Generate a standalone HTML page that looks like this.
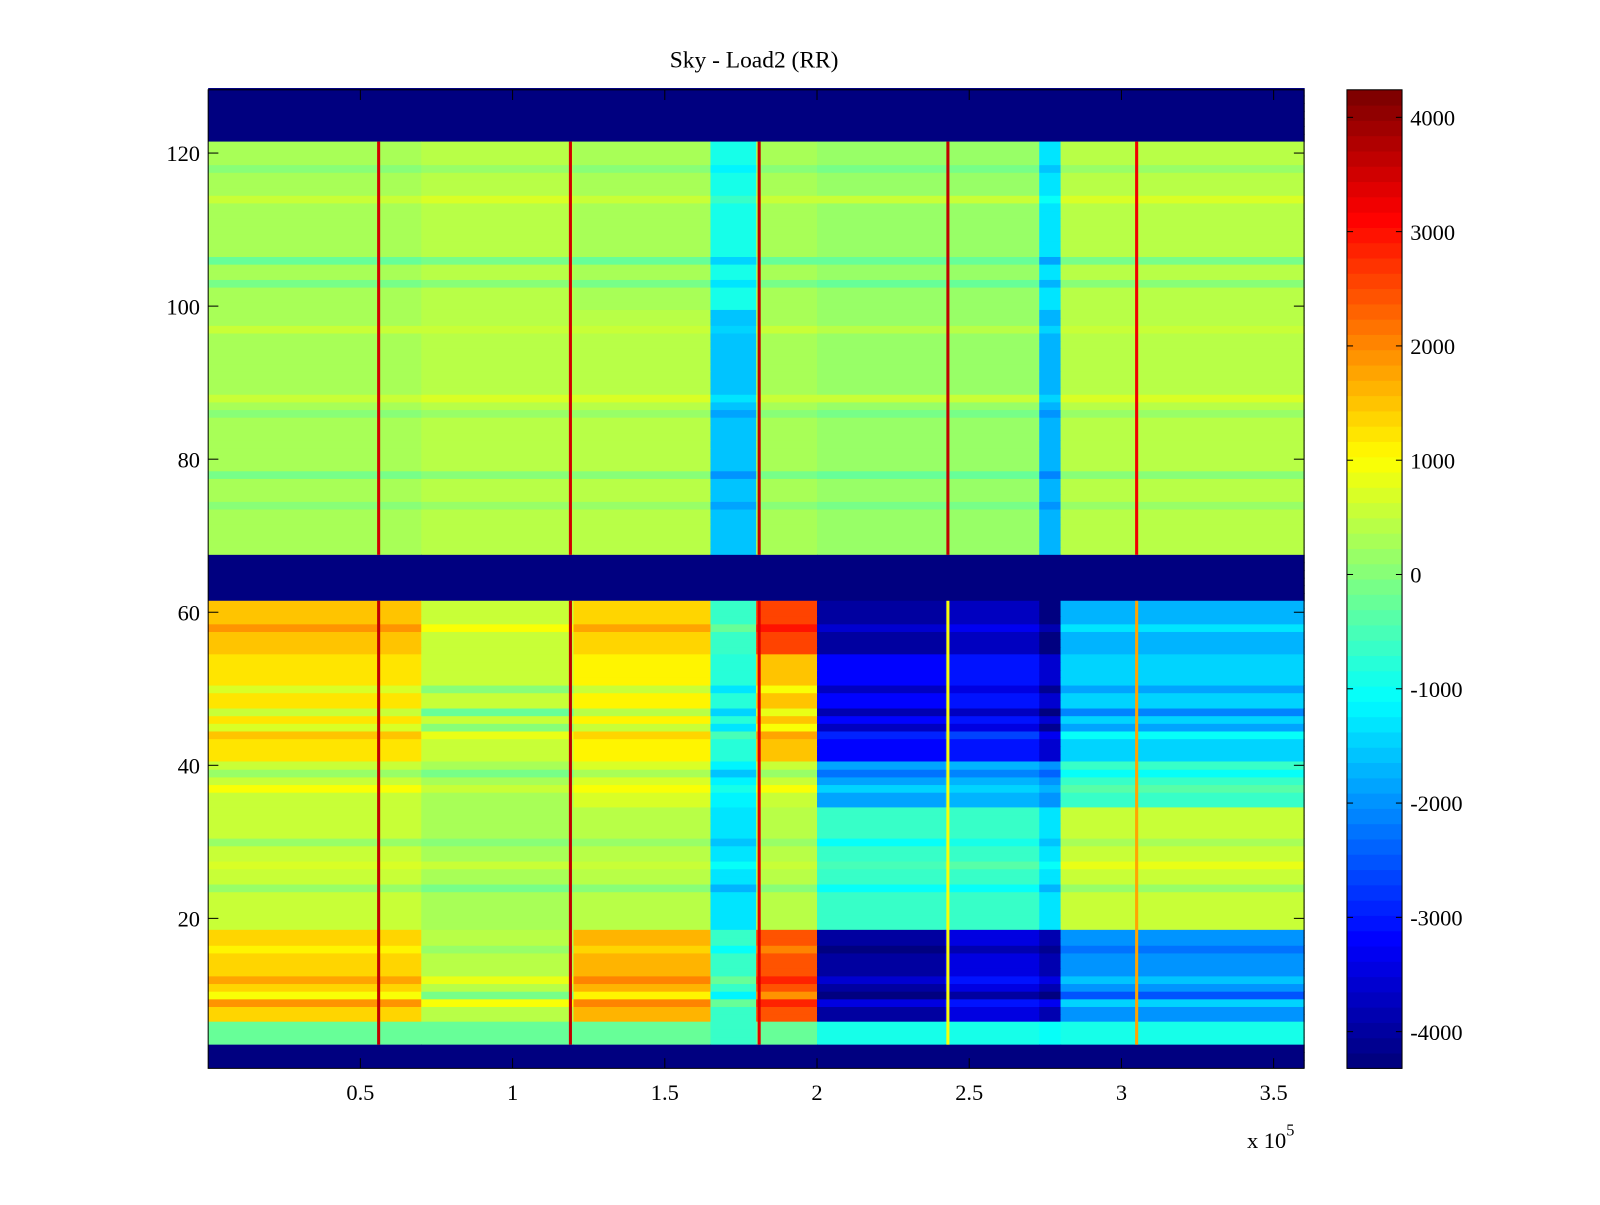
<!DOCTYPE html>
<html><head><meta charset="utf-8"><style>
body{margin:0;background:#fff;}
svg text{font-family:"Liberation Serif",serif;fill:#000;}
</style></head><body>
<svg id="chart" width="1600" height="1200" viewBox="0 0 1568 1176" xmlns="http://www.w3.org/2000/svg">
<rect width="1568" height="1176" fill="#fff"/>
<text x="739" y="66" font-size="23" text-anchor="middle">Sky - Load2 (RR)</text>
<g id="cells"></g>
<g id="lines"></g>
<g id="axes"></g>
<g id="cbar"></g>
<text x="1222" y="1125" font-size="22">x 10<tspan dy="-12" font-size="16">5</tspan></text>
</svg>
<script>
// column segment edges (x in units of 1e5)
const colEdges = [0,0.7,1.2,1.65,1.8,2.0,2.42,2.73,2.8,3.6];
// row bands [lo, hi] inclusive
const bandRows = [[122,128],[100,121],[68,99],[62,67],[55,61],[41,54],[35,40],[19,34],[7,18],[4,6],[1,3]];
const bandValues = [
 [-4300,-4300,-4300,-4300,-4300,-4300,-4300,-4300,-4300],
 [300,400,300,-900,300,200,200,-1300,400],
 [300,400,400,-1600,300,200,200,-1700,400],
 [-4300,-4300,-4300,-4300,-4300,-4300,-4300,-4300,-4300],
 [1500,600,1400,-700,2600,-4000,-3700,-4200,-1700],
 [1200,500,1100,-800,1500,-3200,-3000,-3600,-1400],
 [600,300,700,-1200,600,-1800,-1700,-2000,-700],
 [500,300,400,-1300,400,-700,-600,-1300,600],
 [1400,400,1600,-700,2400,-4000,-3500,-3800,-2000],
 [-300,-300,-300,-600,-300,-900,-900,-1000,-900],
 [-4300,-4300,-4300,-4300,-4300,-4300,-4300,-4300,-4300]
];
// per-row stripe offsets [row, offset]
const stripeRows = [[118,-300],[114,300],[106,-500],[103,-400],[97,200],[88,300],[86,-300],[78,-400],[74,-300],[58,400],[50,-500],[47,-700],[45,-500],[44,300],[39,-400],[37,300],[30,-300],[27,200],[24,-400],[16,-300],[12,400],[10,-500],[9,500]];
// vertical spike lines
const lineX = [0.56,1.19,1.81,2.43,3.05];
const lineTopVal = [3500,3500,3600,3600,3300];
const lineBottomVal = [3700,3600,3400,900,1800];
const xTicks = [0.5,1,1.5,2,2.5,3,3.5];
const yTicks = [20,40,60,80,100,120];
const cTicks = [-4000,-3000,-2000,-1000,0,1000,2000,3000,4000];

const NS="http://www.w3.org/2000/svg";
const L=204,R=1278,T=88,B=1047;
const xs = v => L + v/3.6*(R-L);
const ys = v => 1050 - v*7.5;
const CMIN=-4321, CMAX=4241;
function jet(v){
  let t=(v-CMIN)/(CMAX-CMIN); t=Math.max(0,Math.min(1,t));
  t=Math.floor(t*63.999)/63;
  const f=x=>Math.max(0,Math.min(1,x));
  const r=f(1.5-Math.abs(4*t-3)), g=f(1.5-Math.abs(4*t-2)), b=f(1.5-Math.abs(4*t-1));
  return `rgb(${Math.round(r*255)},${Math.round(g*255)},${Math.round(b*255)})`;
}
function mk(tag,attrs,parent){const e=document.createElementNS(NS,tag);for(const k in attrs)e.setAttribute(k,attrs[k]);parent.appendChild(e);return e;}
const offMap={}; stripeRows.forEach(s=>offMap[s[0]]=s[1]);
const cells=document.getElementById('cells');
bandRows.forEach((br,bi)=>{
  for(let row=br[0];row<=br[1];row++){
    const off = bandValues[bi][0]<-4000?0:(offMap[row]||0);
    for(let s=0;s<colEdges.length-1;s++){
      const x0=xs(colEdges[s]),x1=xs(colEdges[s+1]);
      const r=mk('rect',{x:x0,y:ys(row+0.5),width:x1-x0+0.6,height:7.5+0.6,fill:jet(bandValues[bi][s]+off)},cells);
      
      
    }
  }
});
const lines=document.getElementById('lines');
lineX.forEach((lx,i)=>{
  const a=mk('rect',{x:xs(lx)-1.5,y:ys(121.5),width:3,height:ys(67.5)-ys(121.5),fill:jet(lineTopVal[i])},lines);
  
  
  const b=mk('rect',{x:xs(lx)-1.5,y:ys(61.5),width:3,height:ys(3.5)-ys(61.5),fill:jet(lineBottomVal[i])},lines);
  
  
});
const axes=document.getElementById('axes');
mk('rect',{x:L,y:T,width:R-L,height:B-T,fill:'none',stroke:'#000','stroke-width':1},axes);
xTicks.forEach(v=>{
  const x=xs(v);
  mk('line',{x1:x,y1:B,x2:x,y2:B-10,stroke:'#000'},axes);
  mk('line',{x1:x,y1:T,x2:x,y2:T+10,stroke:'#000'},axes);
  const t=mk('text',{x:x,y:1078,'font-size':22,'text-anchor':'middle'},axes);
  t.textContent=v;
  
  
});
yTicks.forEach(v=>{
  const y=ys(v);
  mk('line',{x1:L,y1:y,x2:L+10,y2:y,stroke:'#000'},axes);
  mk('line',{x1:R,y1:y,x2:R-10,y2:y,stroke:'#000'},axes);
  const t=mk('text',{x:196,y:y+8,'font-size':22,'text-anchor':'end'},axes);
  t.textContent=v;
  
  
});
const cb=document.getElementById('cbar');
const CL=1320,CR=1374;
const cy=v=>563 - v*0.112;
for(let i=0;i<64;i++){
  const v0=CMIN+(CMAX-CMIN)*i/64, v1=CMIN+(CMAX-CMIN)*(i+1)/64;
  const r=mk('rect',{x:CL,y:cy(v1),width:CR-CL,height:cy(v0)-cy(v1)+0.5,fill:jet((v0+v1)/2)},cb);
  
  
}
mk('rect',{x:CL,y:T,width:CR-CL,height:B-T,fill:'none',stroke:'#000'},cb);
cTicks.forEach(v=>{
  const y=cy(v);
  mk('line',{x1:CL,y1:y,x2:CL+6,y2:y,stroke:'#000'},cb);
  mk('line',{x1:CR,y1:y,x2:CR-6,y2:y,stroke:'#000'},cb);
  const t=mk('text',{x:1382,y:y+8,'font-size':22},cb);
  t.textContent=v;
  
  
});
</script>
</body></html>
